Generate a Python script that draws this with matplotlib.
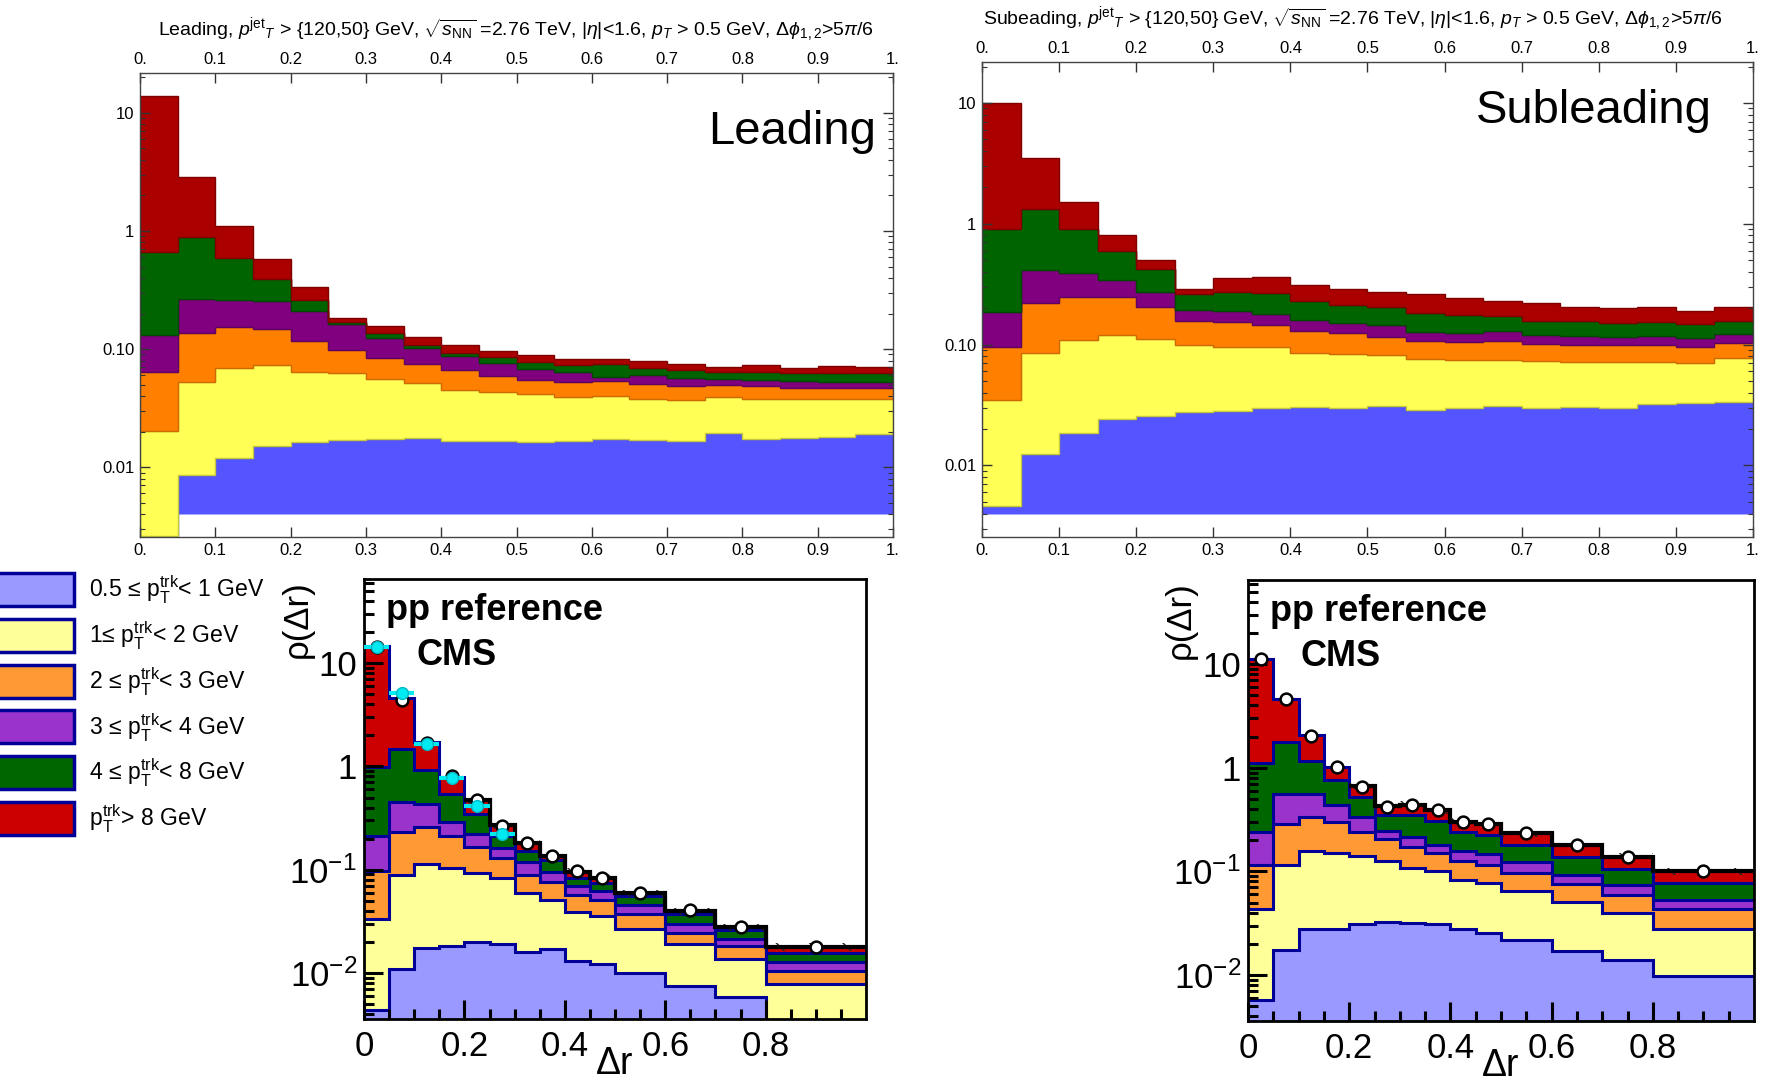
#!/usr/bin/env python3
"""Track pT decomposition of the jet shape: PbPb model (top) and pp reference (bottom)."""

import numpy as np
import matplotlib
matplotlib.use("Agg")
import matplotlib.pyplot as plt
from matplotlib.patches import Rectangle
from matplotlib.ticker import FixedLocator, FixedFormatter, LogLocator, NullFormatter

plt.rcParams['font.family'] = ['Liberation Sans', 'DejaVu Sans']
plt.rcParams['mathtext.fontset'] = 'custom'
plt.rcParams['mathtext.rm'] = 'Liberation Sans'
plt.rcParams['mathtext.it'] = 'Liberation Sans:italic'
plt.rcParams['mathtext.bf'] = 'Liberation Sans:bold'
plt.rcParams['hatch.linewidth'] = 1.0
NARROW = ['Liberation Sans Narrow', 'Liberation Sans', 'DejaVu Sans']

# ---------------- data ----------------
# top panels: 20 bins in dr, values are the cumulative top of each stacked layer
top_edges = np.linspace(0.0, 1.0, 21)
blue_floor = 0.004

lead_blue = [0.0026, 0.0085, 0.0119, 0.0150, 0.0163, 0.0170, 0.0172, 0.0176, 0.0168, 0.0168,
             0.0163, 0.0165, 0.0172, 0.0170, 0.0168, 0.0194, 0.0172, 0.0178, 0.0180, 0.0192]
lead_yellow = [0.0204, 0.0531, 0.0689, 0.0734, 0.0645, 0.0624, 0.0555, 0.0514, 0.0451, 0.0437,
               0.0415, 0.0391, 0.0402, 0.0379, 0.0371, 0.0391, 0.0381, 0.0378, 0.0379, 0.0379]
lead_orange = [0.0645, 0.138, 0.155, 0.147, 0.116, 0.0983, 0.0841, 0.0744, 0.0667, 0.0597,
               0.0548, 0.0524, 0.0540, 0.0507, 0.0491, 0.0494, 0.0482, 0.0472, 0.0466, 0.0466]
lead_purple = [0.131, 0.264, 0.260, 0.257, 0.211, 0.163, 0.124, 0.102, 0.0875, 0.0769,
               0.0684, 0.0637, 0.0585, 0.0608, 0.0566, 0.0555, 0.0548, 0.0537, 0.0527, 0.0530]
lead_green = [0.667, 0.883, 0.586, 0.389, 0.260, 0.168, 0.136, 0.108, 0.0934, 0.0863,
              0.0773, 0.0734, 0.0744, 0.0692, 0.0667, 0.0645, 0.0645, 0.0624, 0.0624, 0.0624]
lead_red = [13.8, 2.84, 1.11, 0.578, 0.337, 0.182, 0.158, 0.127, 0.108, 0.0965,
            0.0892, 0.082, 0.083, 0.0798, 0.0748, 0.0701, 0.0739, 0.0692, 0.0720, 0.0711]

sub_blue = [0.0046, 0.0124, 0.0185, 0.0242, 0.0258, 0.0278, 0.0281, 0.0297, 0.0302, 0.0300,
            0.0312, 0.0287, 0.0297, 0.0312, 0.0297, 0.0305, 0.0297, 0.0320, 0.0330, 0.0336]
sub_yellow = [0.0347, 0.085, 0.110, 0.119, 0.112, 0.0995, 0.0953, 0.0953, 0.085, 0.084,
              0.0815, 0.0764, 0.074, 0.074, 0.0727, 0.0718, 0.0718, 0.0718, 0.0709, 0.0778]
sub_orange = [0.0947, 0.223, 0.249, 0.246, 0.203, 0.158, 0.153, 0.144, 0.129, 0.124,
              0.115, 0.108, 0.105, 0.107, 0.1016, 0.100, 0.0995, 0.100, 0.0953, 0.1035]
sub_purple = [0.185, 0.412, 0.394, 0.341, 0.275, 0.195, 0.188, 0.179, 0.161, 0.151,
              0.144, 0.128, 0.125, 0.129, 0.120, 0.117, 0.115, 0.117, 0.114, 0.122]
sub_green = [0.897, 1.33, 0.897, 0.594, 0.420, 0.262, 0.274, 0.265, 0.231, 0.212,
             0.203, 0.183, 0.176, 0.174, 0.158, 0.156, 0.151, 0.153, 0.148, 0.158]
sub_red = [10.0, 3.48, 1.51, 0.815, 0.505, 0.288, 0.359, 0.363, 0.312, 0.288,
           0.274, 0.262, 0.241, 0.228, 0.220, 0.203, 0.200, 0.203, 0.191, 0.206]

# bottom panels: pp reference, 14 variable bins
pp_edges = np.array([0.0, 0.05, 0.1, 0.15, 0.2, 0.25, 0.3, 0.35, 0.4, 0.45, 0.5, 0.6, 0.7, 0.8, 1.0])

ppl_blue = [0.00436, 0.011, 0.0176, 0.0183, 0.0202, 0.0193, 0.0161, 0.0170, 0.0132, 0.0123,
            0.0100, 0.00757, 0.0059, 0.001]
ppl_yellow = [0.0335, 0.0893, 0.1146, 0.105, 0.094, 0.083, 0.0599, 0.0507, 0.0389, 0.036,
              0.0267, 0.019, 0.0137, 0.00785]
ppl_orange = [0.0964, 0.23, 0.257, 0.213, 0.166, 0.13, 0.0893, 0.0768, 0.0568, 0.0507,
              0.0375, 0.0247, 0.0185, 0.0105]
ppl_purple = [0.213, 0.453, 0.43, 0.288, 0.224, 0.163, 0.118, 0.096, 0.0697, 0.0627,
              0.0459, 0.0299, 0.0216, 0.0127]
ppl_green = [0.98, 1.46, 0.927, 0.538, 0.348, 0.213, 0.151, 0.125, 0.083, 0.074,
             0.0555, 0.0375, 0.026, 0.0157]
ppl_red = [14.6, 4.6, 1.72, 0.785, 0.47, 0.271, 0.18, 0.137, 0.095, 0.083,
           0.059, 0.0395, 0.0277, 0.018]
ppl_data = [14.3, 4.35, 1.70, 0.80, 0.477, 0.267, 0.18, 0.137, 0.0967, 0.083,
            0.060, 0.0405, 0.0282, 0.018]
ppl_cyan = [14.3, 5.14, 1.63, 0.78, 0.413, 0.221]

pps_blue = [0.00575, 0.0174, 0.028, 0.0276, 0.0308, 0.0327, 0.032, 0.0308, 0.0276, 0.0257,
            0.0218, 0.0171, 0.014, 0.00986]
pps_yellow = [0.043, 0.116, 0.158, 0.152, 0.142, 0.125, 0.1077, 0.100, 0.0832, 0.0773,
              0.0643, 0.0505, 0.0393, 0.028]
pps_orange = [0.116, 0.29, 0.336, 0.297, 0.242, 0.204, 0.174, 0.150, 0.1265, 0.116,
              0.0964, 0.0762, 0.0597, 0.0435]
pps_purple = [0.242, 0.555, 0.555, 0.435, 0.336, 0.245, 0.216, 0.180, 0.158, 0.148,
              0.122, 0.0929, 0.0745, 0.0535]
pps_green = [1.12, 1.76, 1.17, 0.757, 0.524, 0.349, 0.349, 0.308, 0.242, 0.224,
             0.180, 0.139, 0.105, 0.0773]
pps_red = [11.3, 4.58, 2.07, 1.01, 0.662, 0.43, 0.435, 0.39, 0.301, 0.286,
           0.236, 0.178, 0.137, 0.100]
pps_data = [11.3, 4.65, 2.05, 1.01, 0.65, 0.42, 0.435, 0.39, 0.30, 0.285,
            0.236, 0.18, 0.137, 0.10]

legend_labels = [
    r"0.5 ≤ $\mathrm{p}_{\mathrm{T}}^{\mathrm{trk}}$< 1 GeV",
    r"1≤ $\mathrm{p}_{\mathrm{T}}^{\mathrm{trk}}$< 2 GeV",
    r"2 ≤ $\mathrm{p}_{\mathrm{T}}^{\mathrm{trk}}$< 3 GeV",
    r"3 ≤ $\mathrm{p}_{\mathrm{T}}^{\mathrm{trk}}$< 4 GeV",
    r"4 ≤ $\mathrm{p}_{\mathrm{T}}^{\mathrm{trk}}$< 8 GeV",
    r"$\mathrm{p}_{\mathrm{T}}^{\mathrm{trk}}$> 8 GeV",
]

# ---------------- styles ----------------
TOP_FACE = ['#5555ff', '#ffff55', '#ff8000', '#800080', '#006400', '#aa0000']
TOP_EDGE = ['#3c3cd0', '#c8c83c', '#d06a00', '#600060', '#004a00', '#800000']
PP_FACE = ['#9999ff', '#ffff99', '#ff9933', '#9933cc', '#006600', '#cc0000']
NAVY = '#000099'

W, H = 1766, 1082
fig = plt.figure(figsize=(W / 100, H / 100), dpi=100)


def fig_axes(left, top, right, bottom):
    """Axes from pixel box of the reference image."""
    return fig.add_axes([left / W, 1 - bottom / H, (right - left) / W, (bottom - top) / H])


def top_panel(ax, tops, title, title_xy, tag, tag_xy):
    base = blue_floor
    for top, fc, ec in zip(tops, TOP_FACE, TOP_EDGE):
        ax.stairs(top, top_edges, baseline=base, fill=True,
                  facecolor=fc, edgecolor=ec, linewidth=1.0)
        base = top
    ax.set_xlim(0, 1)
    ax.set_yscale('log')
    ax.set_ylim(0.00256, 21.8)

    xt = np.round(np.arange(0, 1.01, 0.1), 1)
    ax.xaxis.set_major_locator(FixedLocator(xt))
    ax.xaxis.set_major_formatter(FixedFormatter(['0.'] + [f'{v:.1f}' for v in xt[1:-1]] + ['1.']))
    ax.yaxis.set_major_locator(FixedLocator([0.01, 0.1, 1, 10]))
    ax.yaxis.set_major_formatter(FixedFormatter(['0.01', '0.10', '1', '10']))
    ax.yaxis.set_minor_locator(LogLocator(base=10, subs=np.arange(2, 10)))
    ax.yaxis.set_minor_formatter(NullFormatter())
    ax.tick_params(which='both', direction='in', top=True, right=True,
                   labeltop=True, labelbottom=True, color='#333333',
                   labelsize=12, labelfontfamily=NARROW, pad=4)
    ax.tick_params(which='major', length=7, width=1)
    ax.tick_params(which='minor', length=3.5, width=0.8)
    for s in ax.spines.values():
        s.set_color('#444444')
        s.set_linewidth(1.0)

    fig.text(title_xy[0] / W, 1 - title_xy[1] / H, title, ha='center', va='center',
             fontsize=14, family=NARROW)
    ax.text(tag_xy[0], tag_xy[1], tag, transform=ax.transAxes, ha='right', va='center',
            fontsize=34)


def pp_panel(ax, tops, data, cyan=None):
    base = 1e-4
    for top, fc in zip(tops, PP_FACE):
        ax.stairs(top, pp_edges, baseline=base, fill=True, facecolor=fc, linewidth=0)
        base = top
    for top in tops:
        ax.stairs(top, pp_edges, baseline=None, color=NAVY, linewidth=2.2)

    centers = 0.5 * (pp_edges[:-1] + pp_edges[1:])
    halfw = 0.5 * np.diff(pp_edges)
    total = np.asarray(tops[-1])
    # systematic band with hatching
    ax.bar(centers[4:], total[4:] * (1.09 - 1 / 1.09), bottom=total[4:] / 1.09,
           width=2 * halfw[4:], fill=False, hatch='\\', edgecolor='#222222', linewidth=0)
    ax.stairs(total[4:], pp_edges[4:], baseline=None, color='black', linewidth=3)

    ax.plot(centers, data, 'o', mfc='white', mec='black', mew=1.8, ms=8.5, zorder=5)
    if cyan is not None:
        n = len(cyan)
        ax.errorbar(centers[:n], cyan, xerr=halfw[:n], fmt='o', color='#00eaf2',
                    mec='#00b8c8', ms=8.5, elinewidth=3, capsize=0, zorder=6)

    ax.set_xlim(0, 1)
    ax.set_yscale('log')
    ax.set_ylim(0.0036, 65)
    ax.xaxis.set_major_locator(FixedLocator([0, 0.2, 0.4, 0.6, 0.8]))
    ax.xaxis.set_major_formatter(FixedFormatter(['0', '0.2', '0.4', '0.6', '0.8']))
    ax.xaxis.set_minor_locator(FixedLocator(np.arange(0.05, 1.0, 0.05)))
    ax.yaxis.set_major_locator(FixedLocator([0.01, 0.1, 1, 10]))
    ax.yaxis.set_major_formatter(FixedFormatter([r'$10^{-2}$', r'$10^{-1}$', '1', '10']))
    ax.yaxis.set_minor_locator(LogLocator(base=10, subs=np.arange(2, 10)))
    ax.yaxis.set_minor_formatter(NullFormatter())
    ax.tick_params(which='both', direction='in', width=2.2, labelsize=25)
    ax.tick_params(which='major', length=14)
    ax.tick_params(which='minor', length=7)
    ax.tick_params(axis='x', pad=8)
    ax.tick_params(axis='y', pad=5)
    for s in ax.spines.values():
        s.set_linewidth(2)

    ax.text(-0.133, 0.998, r'ρ(Δr)', transform=ax.transAxes, rotation=90,
            ha='center', va='top', fontsize=25)
    ax.text(0.5, -0.102, 'Δr', transform=ax.transAxes, ha='center', va='center', fontsize=27)
    ax.text(0.044, 0.907, 'pp reference', transform=ax.transAxes, ha='left',
            va='baseline', fontsize=26, fontweight='bold')
    ax.text(0.104, 0.805, 'CMS', transform=ax.transAxes, ha='left',
            va='baseline', fontsize=26, fontweight='bold')


ax_tl = fig_axes(140, 73, 893, 537)
ax_tr = fig_axes(982, 62, 1753, 537)
ax_bl = fig_axes(364, 579, 866, 1019)
ax_br = fig_axes(1248, 580, 1754, 1021)

jet_cuts = (r"$p^{\rm jet}{}_{T}$ > {120,50} GeV, $\sqrt{s_{\rm NN}}$ =2.76 TeV, "
            r"|$\eta$|<1.6, $p_{T}$ > 0.5 GeV, $\Delta\phi_{1,2}$>5$\pi$/6")

top_panel(ax_tl, [lead_blue, lead_yellow, lead_orange, lead_purple, lead_green, lead_red],
          'Leading, ' + jet_cuts, (516, 30), 'Leading', (0.977, 0.872))
top_panel(ax_tr, [sub_blue, sub_yellow, sub_orange, sub_purple, sub_green, sub_red],
          'Subeading, ' + jet_cuts, (1353, 19), 'Subleading', (0.947, 0.897))

pp_panel(ax_bl, [ppl_blue, ppl_yellow, ppl_orange, ppl_purple, ppl_green, ppl_red],
         ppl_data, ppl_cyan)
pp_panel(ax_br, [pps_blue, pps_yellow, pps_orange, pps_purple, pps_green, pps_red],
         pps_data)

# legend on the left
for i, (lab, fc) in enumerate(zip(legend_labels, PP_FACE)):
    y_top = 573 + i * 45.8
    fig.add_artist(Rectangle((-3 / W, 1 - (y_top + 33) / H), 77 / W, 33 / H,
                             transform=fig.transFigure, facecolor=fc,
                             edgecolor=NAVY, linewidth=2.5))
    fig.text(89 / W, 1 - (y_top + 17) / H, lab, ha='left', va='center', fontsize=16.6)

fig.savefig('out.png', dpi=100)
